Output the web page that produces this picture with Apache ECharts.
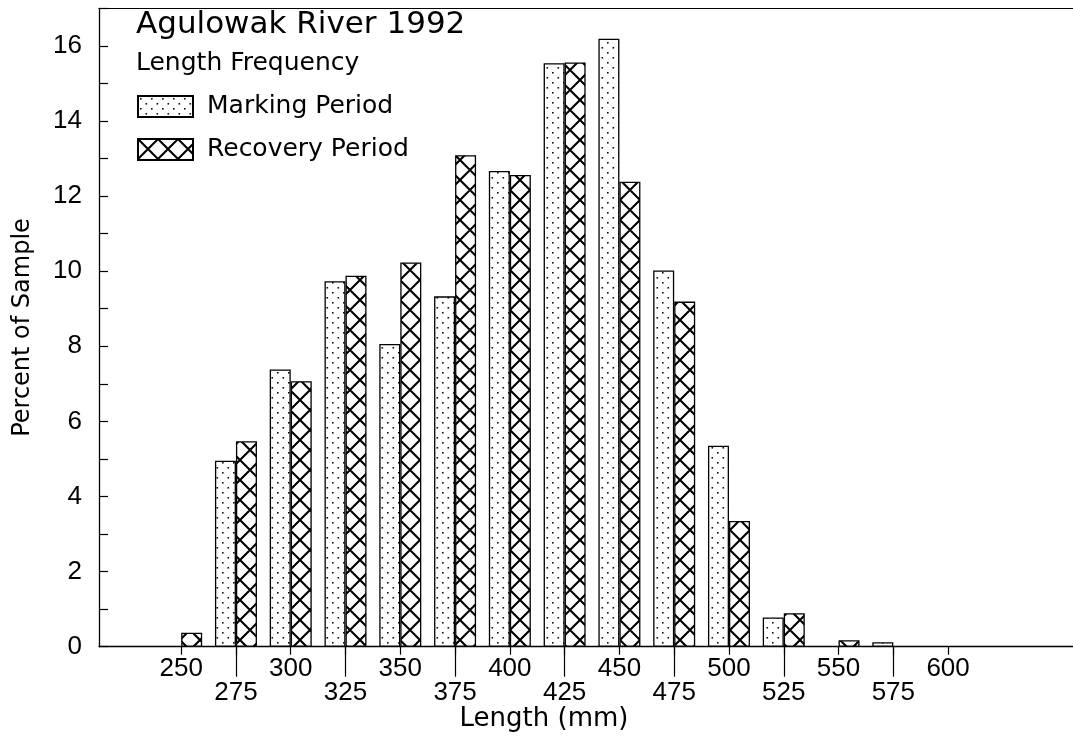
<!DOCTYPE html>
<html><head><meta charset="utf-8">
<script src="https://cdn.jsdelivr.net/npm/echarts@6/dist/echarts.min.js"></script>
<style>html,body{margin:0;padding:0;background:#fff}#c{width:1073px;height:742px}</style>
</head><body><div id="c"></div>
<script>
// ---- data ----
const lengths  = [250, 275, 300, 325, 350, 375, 400, 425, 450, 475, 500, 525, 550, 575, 600];
const marking  = [0, 4.95, 7.38, 9.73, 8.06, 9.33, 12.67, 15.54, 16.19, 10.02, 5.35, 0.78, 0, 0.12, 0];
const recovery = [0.37, 5.47, 7.07, 9.88, 10.23, 13.09, 12.56, 15.56, 12.38, 9.19, 3.35, 0.89, 0.17, 0, 0];
const seriesNames = ['Marking Period', 'Recovery Period'];
const xRange = [212.5, 657];
const yRange = [0, 17];

const NUMFONT = '"Liberation Sans", Arial, Helvetica, sans-serif';
const WORDFONT = '"DejaVu Sans", "Liberation Sans", Arial, sans-serif';

// fill patterns
function dotPattern() {
  const c = document.createElement('canvas'); c.width = 11; c.height = 10;
  const g = c.getContext('2d');
  g.fillStyle = '#fff'; g.fillRect(0, 0, 11, 10);
  g.fillStyle = '#111';
  g.fillRect(2, 2, 1.6, 1.6);
  g.fillRect(7.5, 7, 1.6, 1.6);
  return c;
}
function crossPattern() {
  const s = 20;
  const c = document.createElement('canvas'); c.width = s; c.height = s;
  const g = c.getContext('2d');
  g.fillStyle = '#fff'; g.fillRect(0, 0, s, s);
  g.strokeStyle = '#000'; g.lineWidth = 2.1;
  g.beginPath();
  g.moveTo(-2, -2); g.lineTo(s + 2, s + 2);
  g.moveTo(s + 2, -2); g.lineTo(-2, s + 2);
  g.stroke();
  return c;
}

const isLower = v => ((v - lengths[0]) / 25) % 2 === 1;
const lowerTicks = lengths.filter(isLower);
const pairs = arr => lengths.map((x, i) => [x, arr[i] === 0 ? null : arr[i]]).filter(p => p[1] !== null);

const chart = echarts.init(document.getElementById('c'), null, {renderer: 'canvas'});
chart.setOption({
  animation: false,
  backgroundColor: '#fff',
  textStyle: {fontFamily: WORDFONT, color: '#000'},
  title: {
    text: 'Agulowak River 1992', subtext: 'Length Frequency',
    left: 136, top: 9, padding: 0, itemGap: 11,
    textStyle: {fontFamily: WORDFONT, fontSize: 31, fontWeight: 'normal', color: '#000'},
    subtextStyle: {fontFamily: WORDFONT, fontSize: 25, color: '#000'}
  },
  legend: {
    data: seriesNames, orient: 'vertical', left: 137, top: 94, padding: 0,
    icon: 'rect', itemWidth: 55, itemHeight: 21, itemGap: 18,
    textStyle: {fontFamily: WORDFONT, fontSize: 25, color: '#000', padding: [0, 0, 0, 9]},
    selectedMode: false
  },
  grid: {left: 99, top: 8.3, right: 0, bottom: 742 - 646.7},
  xAxis: [{
    type: 'value', min: xRange[0], max: xRange[1], position: 'bottom',
    axisLine: {show: true, onZero: false, lineStyle: {color: '#000', width: 1.3}},
    axisTick: {show: true, length: 8, customValues: lengths, lineStyle: {color: '#000', width: 1.2}},
    axisLabel: {
      customValues: lengths, margin: 10, fontSize: 26, color: '#000', fontFamily: NUMFONT, lineHeight: 24,
      formatter: v => isLower(v) ? '\n' + v : String(v)
    },
    splitLine: {show: false}
  }, {
    type: 'value', min: xRange[0], max: xRange[1], position: 'bottom',
    axisLine: {show: false},
    axisTick: {show: true, length: 30, customValues: lowerTicks, lineStyle: {color: '#000', width: 1.2}},
    axisLabel: {show: false},
    splitLine: {show: false}
  }, {
    type: 'value', min: xRange[0], max: xRange[1], position: 'top',
    axisLine: {show: true, onZero: false, lineStyle: {color: '#000', width: 1.2}},
    axisTick: {show: false}, axisLabel: {show: false}, splitLine: {show: false}
  }],
  yAxis: {
    type: 'value', min: yRange[0], max: yRange[1], interval: 1,
    axisLine: {show: true, lineStyle: {color: '#000', width: 1.3}},
    axisTick: {show: true, inside: true, length: 9, lineStyle: {color: '#000', width: 1.2}},
    splitLine: {show: false},
    axisLabel: {
      fontSize: 26, margin: 17, color: '#000', fontFamily: NUMFONT,
      formatter: v => (v % 2 === 0 && v <= 16) ? String(v) : ''
    },
    name: 'Percent of Sample', nameLocation: 'middle', nameGap: 64, nameRotate: 90,
    nameTextStyle: {fontSize: 24, color: '#000', fontFamily: WORDFONT}
  },
  graphic: [{
    type: 'text', x: 544, y: 719,
    style: {text: 'Length (mm)', fontSize: 26, fontFamily: WORDFONT, fill: '#000', align: 'center', verticalAlign: 'middle'}
  }],
  series: [{
    name: seriesNames[0], type: 'bar', xAxisIndex: 0, data: pairs(marking),
    barWidth: 21, barGap: '0%',
    itemStyle: {color: {image: dotPattern(), repeat: 'repeat'}, borderColor: '#000', borderWidth: 1.3},
    emphasis: {disabled: true}
  }, {
    name: seriesNames[1], type: 'bar', xAxisIndex: 0, data: pairs(recovery),
    barWidth: 21, barGap: '0%',
    itemStyle: {color: {image: crossPattern(), repeat: 'repeat'}, borderColor: '#000', borderWidth: 1.3},
    emphasis: {disabled: true}
  }]
});
</script></body></html>
